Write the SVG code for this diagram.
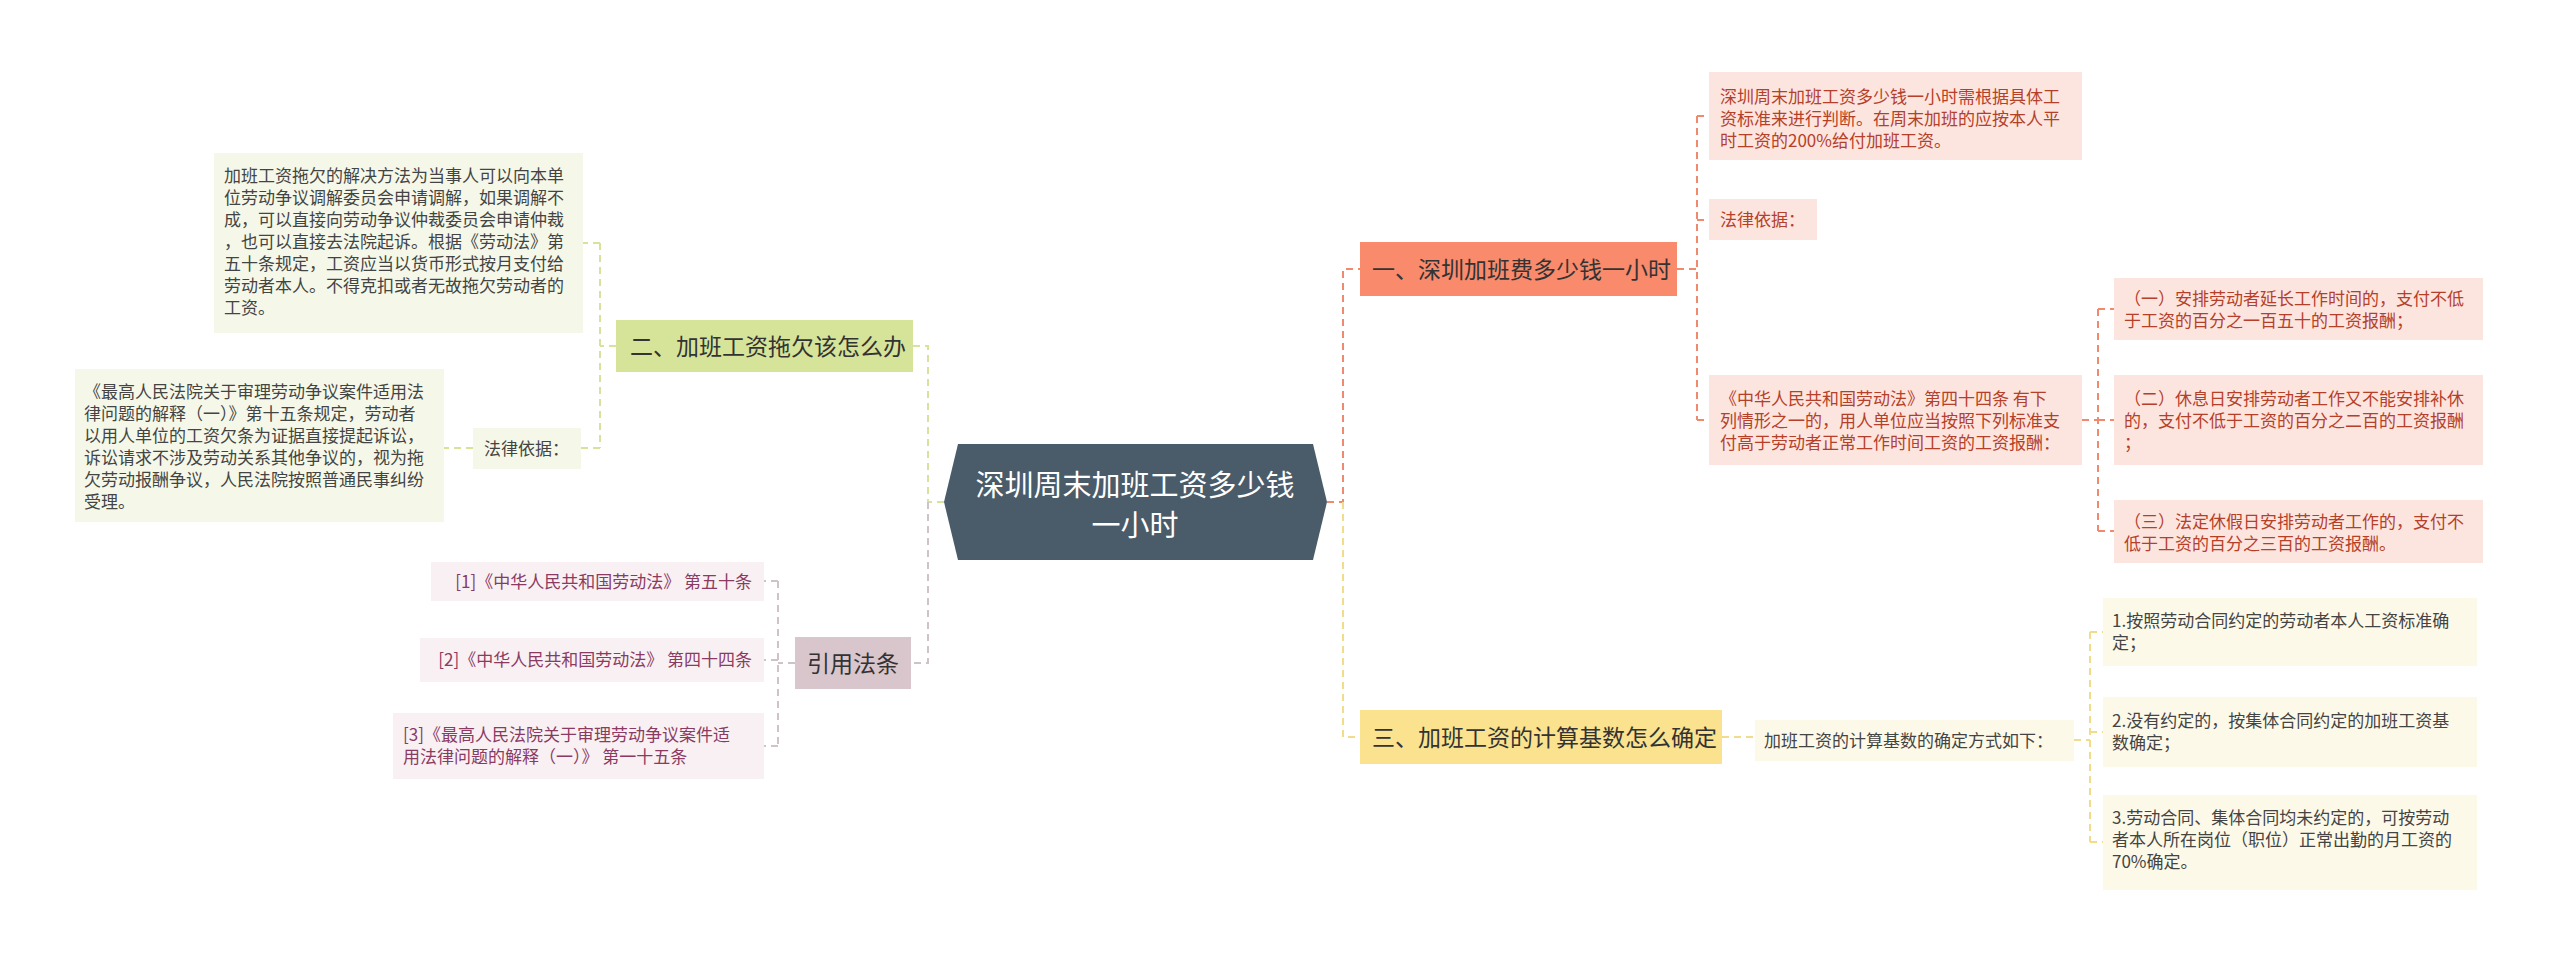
<svg xmlns="http://www.w3.org/2000/svg" width="2560" height="965" viewBox="0 0 2560 965">
<style>
text{font-family:"Noto Sans CJK SC","Liberation Sans",sans-serif}
.c{fill:none;stroke-width:2;stroke-dasharray:7 5}
.o{stroke:#f08a6e}.y{stroke:#f0dc8c}.g{stroke:#d6e49a}.p{stroke:#cfc2c8}
.t1{font-size:17px;fill:#b5402a}
.t2{font-size:17px;fill:#444}
.t3{font-size:17px;fill:#8b3a62}
</style>
<rect width="2560" height="965" fill="#fff"/>
<g id="connectors">
<path class="c o" d="M1327 502H1343V269H1360"/>
<path class="c y" d="M1343 502V737H1360"/>
<path class="c g" d="M944 502H928V346H913"/>
<path class="c p" d="M928 502V663H911"/>
<path class="c o" d="M1677 269H1697M1697 116V420M1697 116H1709M1697 220H1709M1697 420H1709"/>
<path class="c o" d="M2082 420H2098M2098 309V531M2098 309H2114M2098 420H2114M2098 531H2114"/>
<path class="c g" d="M616 346H600M600 243V448M600 243H583M600 448H581M473 448H444"/>
<path class="c p" d="M795 663H778M778 581V746M778 581H764M778 660H764M778 746H764"/>
<path class="c y" d="M1722 737H1755M2074 740H2090M2090 632V842M2090 632H2103M2090 732H2103M2090 842H2103"/>
</g>
<g id="center">
<path d="M958 444H1313L1327 502L1313 560H958L944 502Z" fill="#4a5b69"/>
<text x="1135" y="496" font-size="29" fill="#fff" text-anchor="middle">深圳周末加班工资多少钱</text>
<text x="1135" y="536" font-size="29" fill="#fff" text-anchor="middle">一小时</text>
</g>
<g id="b1">
<rect x="1360" y="242" width="317" height="54" fill="#f98a6b"/>
<text x="1372" y="278" font-size="23" fill="#333">一、深圳加班费多少钱一小时</text>
</g>
<g id="b1a">
<rect x="1709" y="72" width="373" height="88" fill="#fde5df"/>
<text class="t1" x="1720" y="103">深圳周末加班工资多少钱一小时需根据具体工</text>
<text class="t1" x="1720" y="125">资标准来进行判断。在周末加班的应按本人平</text>
<text class="t1" x="1720" y="147">时工资的200%给付加班工资。</text>
</g>
<g id="b1b">
<rect x="1709" y="199" width="108" height="41" fill="#fde5df"/>
<text class="t1" x="1720" y="226">法律依据：</text>
</g>
<g id="b1c">
<rect x="1709" y="375" width="373" height="90" fill="#fde5df"/>
<text class="t1" x="1720" y="405">《中华人民共和国劳动法》第四十四条 有下</text>
<text class="t1" x="1720" y="427">列情形之一的，用人单位应当按照下列标准支</text>
<text class="t1" x="1720" y="449">付高于劳动者正常工作时间工资的工资报酬：</text>
</g>
<g id="b1c1">
<rect x="2114" y="278" width="369" height="62" fill="#fde5df"/>
<text class="t1" x="2124" y="305">（一）安排劳动者延长工作时间的，支付不低</text>
<text class="t1" x="2124" y="327">于工资的百分之一百五十的工资报酬；</text>
</g>
<g id="b1c2">
<rect x="2114" y="375" width="369" height="90" fill="#fde5df"/>
<text class="t1" x="2124" y="405">（二）休息日安排劳动者工作又不能安排补休</text>
<text class="t1" x="2124" y="427">的，支付不低于工资的百分之二百的工资报酬</text>
<text class="t1" x="2124" y="449">；</text>
</g>
<g id="b1c3">
<rect x="2114" y="500" width="369" height="63" fill="#fde5df"/>
<text class="t1" x="2124" y="528">（三）法定休假日安排劳动者工作的，支付不</text>
<text class="t1" x="2124" y="550">低于工资的百分之三百的工资报酬。</text>
</g>
<g id="b2">
<rect x="616" y="320" width="297" height="52" fill="#d6e49a"/>
<text x="630" y="355" font-size="23" fill="#333">二、加班工资拖欠该怎么办</text>
</g>
<g id="b2a">
<rect x="214" y="153" width="369" height="180" fill="#f5f8e8"/>
<text class="t2" x="224" y="182">加班工资拖欠的解决方法为当事人可以向本单</text>
<text class="t2" x="224" y="204">位劳动争议调解委员会申请调解，如果调解不</text>
<text class="t2" x="224" y="226">成，可以直接向劳动争议仲裁委员会申请仲裁</text>
<text class="t2" x="224" y="248">，也可以直接去法院起诉。根据《劳动法》第</text>
<text class="t2" x="224" y="270">五十条规定，工资应当以货币形式按月支付给</text>
<text class="t2" x="224" y="292">劳动者本人。不得克扣或者无故拖欠劳动者的</text>
<text class="t2" x="224" y="314">工资。</text>
</g>
<g id="b2b">
<rect x="473" y="428" width="108" height="41" fill="#f5f8e8"/>
<text class="t2" x="484" y="455">法律依据：</text>
</g>
<g id="b2c">
<rect x="75" y="369" width="369" height="153" fill="#f5f8e8"/>
<text class="t2" x="84" y="398">《最高人民法院关于审理劳动争议案件适用法</text>
<text class="t2" x="84" y="420">律问题的解释（一）》第十五条规定，劳动者</text>
<text class="t2" x="84" y="442">以用人单位的工资欠条为证据直接提起诉讼，</text>
<text class="t2" x="84" y="464">诉讼请求不涉及劳动关系其他争议的，视为拖</text>
<text class="t2" x="84" y="486">欠劳动报酬争议，人民法院按照普通民事纠纷</text>
<text class="t2" x="84" y="508">受理。</text>
</g>
<g id="b4">
<rect x="795" y="637" width="116" height="52" fill="#d9c5cc"/>
<text x="853" y="672" font-size="23" fill="#333" text-anchor="middle">引用法条</text>
</g>
<g id="b4a">
<rect x="431" y="562" width="333" height="39" fill="#f8f0f3"/>
<text class="t3" x="752" y="588" text-anchor="end">[1]《中华人民共和国劳动法》 第五十条</text>
</g>
<g id="b4b">
<rect x="420" y="638" width="344" height="44" fill="#f8f0f3"/>
<text class="t3" x="752" y="666" text-anchor="end">[2]《中华人民共和国劳动法》 第四十四条</text>
</g>
<g id="b4c">
<rect x="393" y="713" width="371" height="66" fill="#f8f0f3"/>
<text class="t3" x="403" y="741">[3]《最高人民法院关于审理劳动争议案件适</text>
<text class="t3" x="403" y="763">用法律问题的解释（一）》 第一十五条</text>
</g>
<g id="b3">
<rect x="1360" y="710" width="362" height="54" fill="#fae28e"/>
<text x="1372" y="746" font-size="23" fill="#333">三、加班工资的计算基数怎么确定</text>
</g>
<g id="b3a">
<rect x="1755" y="720" width="319" height="41" fill="#fdf9e8"/>
<text class="t2" x="1764" y="747">加班工资的计算基数的确定方式如下：</text>
</g>
<g id="b3a1">
<rect x="2103" y="598" width="374" height="68" fill="#fdf9e8"/>
<text class="t2" x="2112" y="627">1.按照劳动合同约定的劳动者本人工资标准确</text>
<text class="t2" x="2112" y="649">定；</text>
</g>
<g id="b3a2">
<rect x="2103" y="697" width="374" height="70" fill="#fdf9e8"/>
<text class="t2" x="2112" y="727">2.没有约定的，按集体合同约定的加班工资基</text>
<text class="t2" x="2112" y="749">数确定；</text>
</g>
<g id="b3a3">
<rect x="2103" y="795" width="374" height="95" fill="#fdf9e8"/>
<text class="t2" x="2112" y="824">3.劳动合同、集体合同均未约定的，可按劳动</text>
<text class="t2" x="2112" y="846">者本人所在岗位（职位）正常出勤的月工资的</text>
<text class="t2" x="2112" y="868">70%确定。</text>
</g>
</svg>
